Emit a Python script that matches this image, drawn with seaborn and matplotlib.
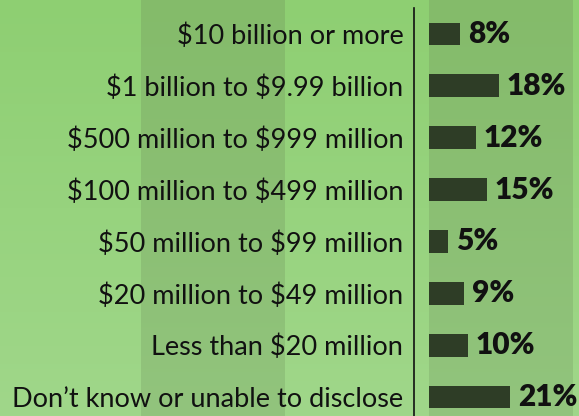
import numpy as np
import pandas as pd
import matplotlib
matplotlib.use("Agg")
import matplotlib.pyplot as plt
from matplotlib.colors import to_rgb
import seaborn as sns

categories = [
    "$10 billion or more",
    "$1 billion to $9.99 billion",
    "$500 million to $999 million",
    "$100 million to $499 million",
    "$50 million to $99 million",
    "$20 million to $49 million",
    "Less than $20 million",
    "Don\u2019t know or unable to disclose",
]
shares = [8, 18, 12, 15, 5, 9, 10, 21]

df = pd.DataFrame({"category": categories, "share": shares})

sns.set_theme(style="white")
plt.rcParams["font.family"] = ["Lato", "DejaVu Sans"]
plt.rcParams["text.parse_math"] = False

W, H = 579, 416
fig = plt.figure(figsize=(W / 100, H / 100), dpi=100)

# striped, vertically graded background
bg = fig.add_axes([0, 0, 1, 1])
t = np.linspace(0, 1, H)[:, None, None]
light = (1 - t) * np.array(to_rgb("#8ecf72")) + t * np.array(to_rgb("#a0d78a"))
dark = (1 - t) * np.array(to_rgb("#84bb6a")) + t * np.array(to_rgb("#92c47d"))
xs = np.arange(W)
band = ((xs >= 141) & (xs < 285)) | ((xs >= 429) & (xs < 573))
img = np.where(band[None, :, None], dark, light)
bg.imshow(img, aspect="auto", extent=[0, W, H, 0])
bg.axis("off")

ax = fig.add_axes([429 / W, 0, 150 / W, 1])
ax.patch.set_alpha(0)
sns.barplot(data=df, x="share", y="category", orient="h", color="#2e3d26",
            width=0.44, saturation=1, linewidth=0, edgecolor="none", ax=ax)

ax.set_xlim(0, 150 / 3.88)
ax.set_ylim(7.366, -0.656)
ax.set_xlabel("")
ax.set_ylabel("")
ax.set_xticks([])
for s in ["top", "right", "bottom"]:
    ax.spines[s].set_visible(False)
ax.spines["left"].set_position(("outward", 11))
ax.spines["left"].set_bounds(-0.5, 7.366)
ax.spines["left"].set_color("#111111")
ax.spines["left"].set_linewidth(1.2)
ax.tick_params(axis="y", length=0, pad=7.5, labelsize=19.5, labelcolor="#111111")

for i, v in enumerate(shares):
    ax.text(v + 2.0, i, f"{v}%", va="center", ha="left", fontsize=21.5,
            fontweight="heavy", color="#111111")

fig.savefig("out.png", dpi=100)
